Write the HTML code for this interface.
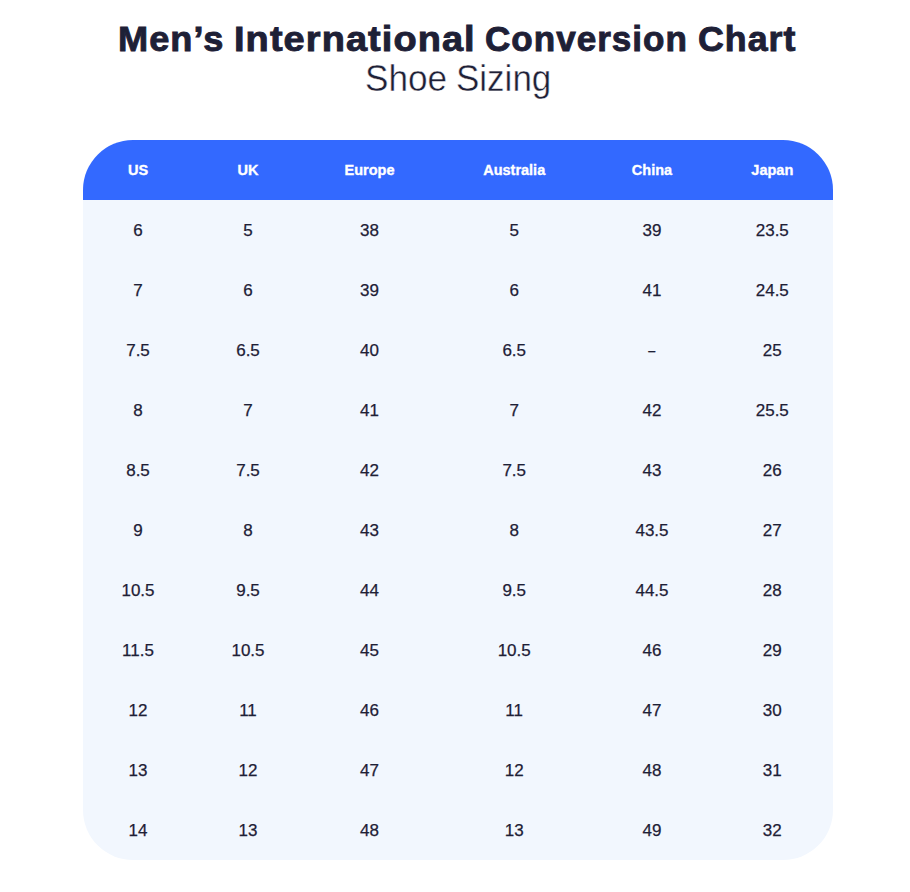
<!DOCTYPE html>
<html>
<head>
<meta charset="utf-8">
<style>
html,body{margin:0;padding:0;background:#ffffff;width:910px;height:892px;overflow:hidden;}
body{font-family:"Liberation Sans",sans-serif;color:#1e2036;position:relative;}
.t1{position:absolute;top:15px;letter-spacing:1px;font-weight:bold;font-size:35px;line-height:48px;white-space:nowrap;transform-origin:0 0;-webkit-text-stroke:0.9px #1e2036;}
.t2{position:absolute;top:57px;-webkit-text-stroke:0.45px #fff;font-weight:normal;font-size:36px;line-height:44px;white-space:nowrap;transform-origin:0 0;}
.tbl{position:absolute;left:83px;top:140px;width:750px;height:720px;border-radius:50px;overflow:hidden;background:#f2f7fe;}
table{border-collapse:collapse;table-layout:fixed;width:750px;}
th{background:#3369ff;color:#fff;font-weight:bold;font-size:14.5px;-webkit-text-stroke:0.35px #fff;height:60px;padding:0;text-align:center;}
td{font-size:17px;height:60px;padding:0;line-height:60px;} td span{position:relative;top:1px;} td{text-align:center;color:#1e2036;-webkit-text-stroke:0.25px #1e2036;}
</style>
</head>
<body>
<div class="t1 w" id="w1" style="left:118.23px;transform:scaleX(1.0333)">Men’s</div>
<div class="t1 w" id="w2" style="left:233.93px;transform:scaleX(1.0839)">International</div>
<div class="t1 w" id="w3" style="left:484.90px;transform:scaleX(1.0020)">Conversion</div>
<div class="t1 w" id="w4" style="left:697.78px;transform:scaleX(1.0211)">Chart</div>
<div class="t2 w" id="w5" style="left:364.95px;transform:scaleX(0.9763)">Shoe</div>
<div class="t2 w" id="w6" style="left:455.76px;transform:scaleX(0.9723)">Sizing</div>
<div class="tbl">
<table>
<colgroup><col style="width:110px"><col style="width:110px"><col style="width:133px"><col style="width:156.4px"><col style="width:119.2px"><col style="width:121.4px"></colgroup>
<tr><th>US</th><th>UK</th><th>Europe</th><th>Australia</th><th>China</th><th>Japan</th></tr>
<tr><td><span>6</span></td><td><span>5</span></td><td><span>38</span></td><td><span>5</span></td><td><span>39</span></td><td><span>23.5</span></td></tr>
<tr><td><span>7</span></td><td><span>6</span></td><td><span>39</span></td><td><span>6</span></td><td><span>41</span></td><td><span>24.5</span></td></tr>
<tr><td><span>7.5</span></td><td><span>6.5</span></td><td><span>40</span></td><td><span>6.5</span></td><td><span style="display:inline-block;transform:scaleX(0.74)">–</span></td><td><span>25</span></td></tr>
<tr><td><span>8</span></td><td><span>7</span></td><td><span>41</span></td><td><span>7</span></td><td><span>42</span></td><td><span>25.5</span></td></tr>
<tr><td><span>8.5</span></td><td><span>7.5</span></td><td><span>42</span></td><td><span>7.5</span></td><td><span>43</span></td><td><span>26</span></td></tr>
<tr><td><span>9</span></td><td><span>8</span></td><td><span>43</span></td><td><span>8</span></td><td><span>43.5</span></td><td><span>27</span></td></tr>
<tr><td><span>10.5</span></td><td><span>9.5</span></td><td><span>44</span></td><td><span>9.5</span></td><td><span>44.5</span></td><td><span>28</span></td></tr>
<tr><td><span>11.5</span></td><td><span>10.5</span></td><td><span>45</span></td><td><span>10.5</span></td><td><span>46</span></td><td><span>29</span></td></tr>
<tr><td><span>12</span></td><td><span>11</span></td><td><span>46</span></td><td><span>11</span></td><td><span>47</span></td><td><span>30</span></td></tr>
<tr><td><span>13</span></td><td><span>12</span></td><td><span>47</span></td><td><span>12</span></td><td><span>48</span></td><td><span>31</span></td></tr>
<tr><td><span>14</span></td><td><span>13</span></td><td><span>48</span></td><td><span>13</span></td><td><span>49</span></td><td><span>32</span></td></tr>
</table>
</div>
</body>
</html>
